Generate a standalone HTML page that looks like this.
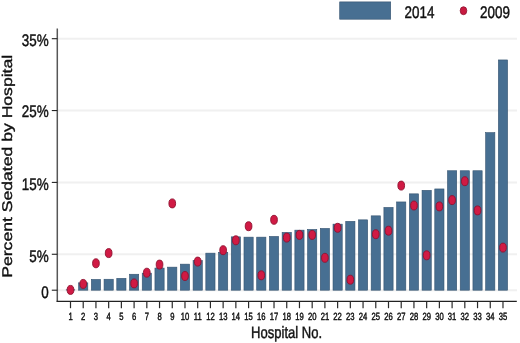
<!DOCTYPE html>
<html><head><meta charset="utf-8"><style>
html,body{margin:0;padding:0;background:#fff;}
body{width:520px;height:343px;overflow:hidden;}
svg{display:block;will-change:transform;}
text{font-family:"Liberation Sans",sans-serif;fill:#111;text-rendering:geometricPrecision;}
.b{stroke:#111;stroke-width:0.45px;}
</style></head><body>
<svg width="520" height="343" viewBox="0 0 520 343">
<rect width="520" height="343" fill="#fff"/>
<line x1="58" y1="290.20" x2="517" y2="290.20" stroke="#f0f0f0" stroke-width="2"/>
<line x1="58" y1="254.27" x2="517" y2="254.27" stroke="#f0f0f0" stroke-width="2"/>
<line x1="58" y1="182.41" x2="517" y2="182.41" stroke="#f0f0f0" stroke-width="2"/>
<line x1="58" y1="110.55" x2="517" y2="110.55" stroke="#f0f0f0" stroke-width="2"/>
<line x1="58" y1="38.69" x2="517" y2="38.69" stroke="#f0f0f0" stroke-width="2"/>
<line x1="65.90" y1="289.90" x2="75.10" y2="289.90" stroke="#34526f" stroke-width="1"/>
<rect x="78.62" y="282.85" width="9.2" height="7.35" fill="#476f92" stroke="#34526f" stroke-width="0.6"/>
<rect x="91.34" y="279.45" width="9.2" height="10.75" fill="#476f92" stroke="#34526f" stroke-width="0.6"/>
<rect x="104.06" y="279.25" width="9.2" height="10.95" fill="#476f92" stroke="#34526f" stroke-width="0.6"/>
<rect x="116.78" y="278.35" width="9.2" height="11.85" fill="#476f92" stroke="#34526f" stroke-width="0.6"/>
<rect x="129.50" y="274.25" width="9.2" height="15.95" fill="#476f92" stroke="#34526f" stroke-width="0.6"/>
<rect x="142.22" y="273.15" width="9.2" height="17.05" fill="#476f92" stroke="#34526f" stroke-width="0.6"/>
<rect x="154.94" y="268.05" width="9.2" height="22.15" fill="#476f92" stroke="#34526f" stroke-width="0.6"/>
<rect x="167.66" y="267.15" width="9.2" height="23.05" fill="#476f92" stroke="#34526f" stroke-width="0.6"/>
<rect x="180.38" y="264.15" width="9.2" height="26.05" fill="#476f92" stroke="#34526f" stroke-width="0.6"/>
<rect x="193.10" y="260.65" width="9.2" height="29.55" fill="#476f92" stroke="#34526f" stroke-width="0.6"/>
<rect x="205.82" y="253.15" width="9.2" height="37.05" fill="#476f92" stroke="#34526f" stroke-width="0.6"/>
<rect x="218.54" y="252.35" width="9.2" height="37.85" fill="#476f92" stroke="#34526f" stroke-width="0.6"/>
<rect x="231.26" y="236.85" width="9.2" height="53.35" fill="#476f92" stroke="#34526f" stroke-width="0.6"/>
<rect x="243.98" y="237.15" width="9.2" height="53.05" fill="#476f92" stroke="#34526f" stroke-width="0.6"/>
<rect x="256.70" y="237.15" width="9.2" height="53.05" fill="#476f92" stroke="#34526f" stroke-width="0.6"/>
<rect x="269.42" y="236.45" width="9.2" height="53.75" fill="#476f92" stroke="#34526f" stroke-width="0.6"/>
<rect x="282.14" y="232.45" width="9.2" height="57.75" fill="#476f92" stroke="#34526f" stroke-width="0.6"/>
<rect x="294.86" y="230.15" width="9.2" height="60.05" fill="#476f92" stroke="#34526f" stroke-width="0.6"/>
<rect x="307.58" y="229.45" width="9.2" height="60.75" fill="#476f92" stroke="#34526f" stroke-width="0.6"/>
<rect x="320.30" y="228.45" width="9.2" height="61.75" fill="#476f92" stroke="#34526f" stroke-width="0.6"/>
<rect x="333.02" y="224.15" width="9.2" height="66.05" fill="#476f92" stroke="#34526f" stroke-width="0.6"/>
<rect x="345.74" y="221.35" width="9.2" height="68.85" fill="#476f92" stroke="#34526f" stroke-width="0.6"/>
<rect x="358.46" y="219.85" width="9.2" height="70.35" fill="#476f92" stroke="#34526f" stroke-width="0.6"/>
<rect x="371.18" y="215.85" width="9.2" height="74.35" fill="#476f92" stroke="#34526f" stroke-width="0.6"/>
<rect x="383.90" y="207.45" width="9.2" height="82.75" fill="#476f92" stroke="#34526f" stroke-width="0.6"/>
<rect x="396.62" y="201.95" width="9.2" height="88.25" fill="#476f92" stroke="#34526f" stroke-width="0.6"/>
<rect x="409.34" y="193.85" width="9.2" height="96.35" fill="#476f92" stroke="#34526f" stroke-width="0.6"/>
<rect x="422.06" y="190.35" width="9.2" height="99.85" fill="#476f92" stroke="#34526f" stroke-width="0.6"/>
<rect x="434.78" y="188.95" width="9.2" height="101.25" fill="#476f92" stroke="#34526f" stroke-width="0.6"/>
<rect x="447.50" y="170.75" width="9.2" height="119.45" fill="#476f92" stroke="#34526f" stroke-width="0.6"/>
<rect x="460.22" y="170.75" width="9.2" height="119.45" fill="#476f92" stroke="#34526f" stroke-width="0.6"/>
<rect x="472.94" y="170.75" width="9.2" height="119.45" fill="#476f92" stroke="#34526f" stroke-width="0.6"/>
<rect x="485.66" y="132.65" width="9.2" height="157.55" fill="#476f92" stroke="#34526f" stroke-width="0.6"/>
<rect x="498.38" y="59.95" width="9.2" height="230.25" fill="#476f92" stroke="#34526f" stroke-width="0.6"/>
<ellipse cx="70.50" cy="289.90" rx="3.35" ry="4.5" fill="#d01a44" stroke="#8e1230" stroke-width="0.9"/>
<ellipse cx="83.22" cy="283.90" rx="3.35" ry="4.5" fill="#d01a44" stroke="#8e1230" stroke-width="0.9"/>
<ellipse cx="95.94" cy="263.30" rx="3.35" ry="4.5" fill="#d01a44" stroke="#8e1230" stroke-width="0.9"/>
<ellipse cx="108.66" cy="253.10" rx="3.35" ry="4.5" fill="#d01a44" stroke="#8e1230" stroke-width="0.9"/>
<ellipse cx="134.10" cy="283.40" rx="3.35" ry="4.5" fill="#d01a44" stroke="#8e1230" stroke-width="0.9"/>
<ellipse cx="146.82" cy="272.70" rx="3.35" ry="4.5" fill="#d01a44" stroke="#8e1230" stroke-width="0.9"/>
<ellipse cx="159.54" cy="264.60" rx="3.35" ry="4.5" fill="#d01a44" stroke="#8e1230" stroke-width="0.9"/>
<ellipse cx="172.26" cy="203.40" rx="3.35" ry="4.5" fill="#d01a44" stroke="#8e1230" stroke-width="0.9"/>
<ellipse cx="184.98" cy="276.00" rx="3.35" ry="4.5" fill="#d01a44" stroke="#8e1230" stroke-width="0.9"/>
<ellipse cx="197.70" cy="261.60" rx="3.35" ry="4.5" fill="#d01a44" stroke="#8e1230" stroke-width="0.9"/>
<ellipse cx="223.14" cy="250.20" rx="3.35" ry="4.5" fill="#d01a44" stroke="#8e1230" stroke-width="0.9"/>
<ellipse cx="235.86" cy="240.30" rx="3.35" ry="4.5" fill="#d01a44" stroke="#8e1230" stroke-width="0.9"/>
<ellipse cx="248.58" cy="226.20" rx="3.35" ry="4.5" fill="#d01a44" stroke="#8e1230" stroke-width="0.9"/>
<ellipse cx="261.30" cy="275.30" rx="3.35" ry="4.5" fill="#d01a44" stroke="#8e1230" stroke-width="0.9"/>
<ellipse cx="274.02" cy="219.80" rx="3.35" ry="4.5" fill="#d01a44" stroke="#8e1230" stroke-width="0.9"/>
<ellipse cx="286.74" cy="237.60" rx="3.35" ry="4.5" fill="#d01a44" stroke="#8e1230" stroke-width="0.9"/>
<ellipse cx="299.46" cy="234.90" rx="3.35" ry="4.5" fill="#d01a44" stroke="#8e1230" stroke-width="0.9"/>
<ellipse cx="312.18" cy="234.90" rx="3.35" ry="4.5" fill="#d01a44" stroke="#8e1230" stroke-width="0.9"/>
<ellipse cx="324.90" cy="257.80" rx="3.35" ry="4.5" fill="#d01a44" stroke="#8e1230" stroke-width="0.9"/>
<ellipse cx="337.62" cy="227.80" rx="3.35" ry="4.5" fill="#d01a44" stroke="#8e1230" stroke-width="0.9"/>
<ellipse cx="350.34" cy="279.70" rx="3.35" ry="4.5" fill="#d01a44" stroke="#8e1230" stroke-width="0.9"/>
<ellipse cx="375.78" cy="234.20" rx="3.35" ry="4.5" fill="#d01a44" stroke="#8e1230" stroke-width="0.9"/>
<ellipse cx="388.50" cy="230.70" rx="3.35" ry="4.5" fill="#d01a44" stroke="#8e1230" stroke-width="0.9"/>
<ellipse cx="401.22" cy="185.60" rx="3.35" ry="4.5" fill="#d01a44" stroke="#8e1230" stroke-width="0.9"/>
<ellipse cx="413.94" cy="205.50" rx="3.35" ry="4.5" fill="#d01a44" stroke="#8e1230" stroke-width="0.9"/>
<ellipse cx="426.66" cy="255.30" rx="3.35" ry="4.5" fill="#d01a44" stroke="#8e1230" stroke-width="0.9"/>
<ellipse cx="439.38" cy="206.40" rx="3.35" ry="4.5" fill="#d01a44" stroke="#8e1230" stroke-width="0.9"/>
<ellipse cx="452.10" cy="200.10" rx="3.35" ry="4.5" fill="#d01a44" stroke="#8e1230" stroke-width="0.9"/>
<ellipse cx="464.82" cy="181.20" rx="3.35" ry="4.5" fill="#d01a44" stroke="#8e1230" stroke-width="0.9"/>
<ellipse cx="477.54" cy="210.40" rx="3.35" ry="4.5" fill="#d01a44" stroke="#8e1230" stroke-width="0.9"/>
<ellipse cx="502.98" cy="247.60" rx="3.35" ry="4.5" fill="#d01a44" stroke="#8e1230" stroke-width="0.9"/>
<line x1="57.3" y1="28.5" x2="57.3" y2="301.8" stroke="#575757" stroke-width="1.5"/>
<line x1="56.6" y1="301.4" x2="516.8" y2="301.4" stroke="#222" stroke-width="1.15"/>
<line x1="51.8" y1="290.20" x2="57.3" y2="290.20" stroke="#222" stroke-width="1.1"/>
<text transform="translate(48.6 297.90) scale(0.8 1)" text-anchor="end" font-size="16.8" class="b">0</text>
<line x1="51.8" y1="254.27" x2="57.3" y2="254.27" stroke="#222" stroke-width="1.1"/>
<text transform="translate(48.6 261.97) scale(0.8 1)" text-anchor="end" font-size="16.8" class="b">5%</text>
<line x1="51.8" y1="182.41" x2="57.3" y2="182.41" stroke="#222" stroke-width="1.1"/>
<text transform="translate(48.6 189.71) scale(0.8 1)" text-anchor="end" font-size="16.8" class="b">15%</text>
<line x1="51.8" y1="110.55" x2="57.3" y2="110.55" stroke="#222" stroke-width="1.1"/>
<text transform="translate(48.6 117.35) scale(0.8 1)" text-anchor="end" font-size="16.8" class="b">25%</text>
<line x1="51.8" y1="38.69" x2="57.3" y2="38.69" stroke="#222" stroke-width="1.1"/>
<text transform="translate(48.6 45.69) scale(0.8 1)" text-anchor="end" font-size="16.8" class="b">35%</text>
<line x1="70.50" y1="301.4" x2="70.50" y2="308.2" stroke="#2a2a2a" stroke-width="1.2"/>
<text transform="translate(70.50 320.0) scale(0.735 1)" text-anchor="middle" font-size="10.4" class="b">1</text>
<line x1="83.22" y1="301.4" x2="83.22" y2="308.2" stroke="#2a2a2a" stroke-width="1.2"/>
<text transform="translate(83.22 320.0) scale(0.735 1)" text-anchor="middle" font-size="10.4" class="b">2</text>
<line x1="95.94" y1="301.4" x2="95.94" y2="308.2" stroke="#2a2a2a" stroke-width="1.2"/>
<text transform="translate(95.94 320.0) scale(0.735 1)" text-anchor="middle" font-size="10.4" class="b">3</text>
<line x1="108.66" y1="301.4" x2="108.66" y2="308.2" stroke="#2a2a2a" stroke-width="1.2"/>
<text transform="translate(108.66 320.0) scale(0.735 1)" text-anchor="middle" font-size="10.4" class="b">4</text>
<line x1="121.38" y1="301.4" x2="121.38" y2="308.2" stroke="#2a2a2a" stroke-width="1.2"/>
<text transform="translate(121.38 320.0) scale(0.735 1)" text-anchor="middle" font-size="10.4" class="b">5</text>
<line x1="134.10" y1="301.4" x2="134.10" y2="308.2" stroke="#2a2a2a" stroke-width="1.2"/>
<text transform="translate(134.10 320.0) scale(0.735 1)" text-anchor="middle" font-size="10.4" class="b">6</text>
<line x1="146.82" y1="301.4" x2="146.82" y2="308.2" stroke="#2a2a2a" stroke-width="1.2"/>
<text transform="translate(146.82 320.0) scale(0.735 1)" text-anchor="middle" font-size="10.4" class="b">7</text>
<line x1="159.54" y1="301.4" x2="159.54" y2="308.2" stroke="#2a2a2a" stroke-width="1.2"/>
<text transform="translate(159.54 320.0) scale(0.735 1)" text-anchor="middle" font-size="10.4" class="b">8</text>
<line x1="172.26" y1="301.4" x2="172.26" y2="308.2" stroke="#2a2a2a" stroke-width="1.2"/>
<text transform="translate(172.26 320.0) scale(0.735 1)" text-anchor="middle" font-size="10.4" class="b">9</text>
<line x1="184.98" y1="301.4" x2="184.98" y2="308.2" stroke="#2a2a2a" stroke-width="1.2"/>
<text transform="translate(184.98 320.0) scale(0.735 1)" text-anchor="middle" font-size="10.4" class="b">10</text>
<line x1="197.70" y1="301.4" x2="197.70" y2="308.2" stroke="#2a2a2a" stroke-width="1.2"/>
<text transform="translate(197.70 320.0) scale(0.735 1)" text-anchor="middle" font-size="10.4" class="b">11</text>
<line x1="210.42" y1="301.4" x2="210.42" y2="308.2" stroke="#2a2a2a" stroke-width="1.2"/>
<text transform="translate(210.42 320.0) scale(0.735 1)" text-anchor="middle" font-size="10.4" class="b">12</text>
<line x1="223.14" y1="301.4" x2="223.14" y2="308.2" stroke="#2a2a2a" stroke-width="1.2"/>
<text transform="translate(223.14 320.0) scale(0.735 1)" text-anchor="middle" font-size="10.4" class="b">13</text>
<line x1="235.86" y1="301.4" x2="235.86" y2="308.2" stroke="#2a2a2a" stroke-width="1.2"/>
<text transform="translate(235.86 320.0) scale(0.735 1)" text-anchor="middle" font-size="10.4" class="b">14</text>
<line x1="248.58" y1="301.4" x2="248.58" y2="308.2" stroke="#2a2a2a" stroke-width="1.2"/>
<text transform="translate(248.58 320.0) scale(0.735 1)" text-anchor="middle" font-size="10.4" class="b">15</text>
<line x1="261.30" y1="301.4" x2="261.30" y2="308.2" stroke="#2a2a2a" stroke-width="1.2"/>
<text transform="translate(261.30 320.0) scale(0.735 1)" text-anchor="middle" font-size="10.4" class="b">16</text>
<line x1="274.02" y1="301.4" x2="274.02" y2="308.2" stroke="#2a2a2a" stroke-width="1.2"/>
<text transform="translate(274.02 320.0) scale(0.735 1)" text-anchor="middle" font-size="10.4" class="b">17</text>
<line x1="286.74" y1="301.4" x2="286.74" y2="308.2" stroke="#2a2a2a" stroke-width="1.2"/>
<text transform="translate(286.74 320.0) scale(0.735 1)" text-anchor="middle" font-size="10.4" class="b">18</text>
<line x1="299.46" y1="301.4" x2="299.46" y2="308.2" stroke="#2a2a2a" stroke-width="1.2"/>
<text transform="translate(299.46 320.0) scale(0.735 1)" text-anchor="middle" font-size="10.4" class="b">19</text>
<line x1="312.18" y1="301.4" x2="312.18" y2="308.2" stroke="#2a2a2a" stroke-width="1.2"/>
<text transform="translate(312.18 320.0) scale(0.735 1)" text-anchor="middle" font-size="10.4" class="b">20</text>
<line x1="324.90" y1="301.4" x2="324.90" y2="308.2" stroke="#2a2a2a" stroke-width="1.2"/>
<text transform="translate(324.90 320.0) scale(0.735 1)" text-anchor="middle" font-size="10.4" class="b">21</text>
<line x1="337.62" y1="301.4" x2="337.62" y2="308.2" stroke="#2a2a2a" stroke-width="1.2"/>
<text transform="translate(337.62 320.0) scale(0.735 1)" text-anchor="middle" font-size="10.4" class="b">22</text>
<line x1="350.34" y1="301.4" x2="350.34" y2="308.2" stroke="#2a2a2a" stroke-width="1.2"/>
<text transform="translate(350.34 320.0) scale(0.735 1)" text-anchor="middle" font-size="10.4" class="b">23</text>
<line x1="363.06" y1="301.4" x2="363.06" y2="308.2" stroke="#2a2a2a" stroke-width="1.2"/>
<text transform="translate(363.06 320.0) scale(0.735 1)" text-anchor="middle" font-size="10.4" class="b">24</text>
<line x1="375.78" y1="301.4" x2="375.78" y2="308.2" stroke="#2a2a2a" stroke-width="1.2"/>
<text transform="translate(375.78 320.0) scale(0.735 1)" text-anchor="middle" font-size="10.4" class="b">25</text>
<line x1="388.50" y1="301.4" x2="388.50" y2="308.2" stroke="#2a2a2a" stroke-width="1.2"/>
<text transform="translate(388.50 320.0) scale(0.735 1)" text-anchor="middle" font-size="10.4" class="b">26</text>
<line x1="401.22" y1="301.4" x2="401.22" y2="308.2" stroke="#2a2a2a" stroke-width="1.2"/>
<text transform="translate(401.22 320.0) scale(0.735 1)" text-anchor="middle" font-size="10.4" class="b">27</text>
<line x1="413.94" y1="301.4" x2="413.94" y2="308.2" stroke="#2a2a2a" stroke-width="1.2"/>
<text transform="translate(413.94 320.0) scale(0.735 1)" text-anchor="middle" font-size="10.4" class="b">28</text>
<line x1="426.66" y1="301.4" x2="426.66" y2="308.2" stroke="#2a2a2a" stroke-width="1.2"/>
<text transform="translate(426.66 320.0) scale(0.735 1)" text-anchor="middle" font-size="10.4" class="b">29</text>
<line x1="439.38" y1="301.4" x2="439.38" y2="308.2" stroke="#2a2a2a" stroke-width="1.2"/>
<text transform="translate(439.38 320.0) scale(0.735 1)" text-anchor="middle" font-size="10.4" class="b">30</text>
<line x1="452.10" y1="301.4" x2="452.10" y2="308.2" stroke="#2a2a2a" stroke-width="1.2"/>
<text transform="translate(452.10 320.0) scale(0.735 1)" text-anchor="middle" font-size="10.4" class="b">31</text>
<line x1="464.82" y1="301.4" x2="464.82" y2="308.2" stroke="#2a2a2a" stroke-width="1.2"/>
<text transform="translate(464.82 320.0) scale(0.735 1)" text-anchor="middle" font-size="10.4" class="b">32</text>
<line x1="477.54" y1="301.4" x2="477.54" y2="308.2" stroke="#2a2a2a" stroke-width="1.2"/>
<text transform="translate(477.54 320.0) scale(0.735 1)" text-anchor="middle" font-size="10.4" class="b">33</text>
<line x1="490.26" y1="301.4" x2="490.26" y2="308.2" stroke="#2a2a2a" stroke-width="1.2"/>
<text transform="translate(490.26 320.0) scale(0.735 1)" text-anchor="middle" font-size="10.4" class="b">34</text>
<line x1="502.98" y1="301.4" x2="502.98" y2="308.2" stroke="#2a2a2a" stroke-width="1.2"/>
<text transform="translate(502.98 320.0) scale(0.735 1)" text-anchor="middle" font-size="10.4" class="b">35</text>
<text transform="translate(286.6 337.8) scale(0.79 1)" text-anchor="middle" font-size="16.5" class="b">Hospital No.</text>
<text transform="translate(12.4 166.3) rotate(-90) scale(1 0.8)" text-anchor="middle" font-size="17.6" class="b">Percent Sedated by Hospital</text>
<rect x="339.7" y="1.9" width="51.0" height="17.3" fill="#476f92" stroke="#34526f" stroke-width="0.6"/>
<text transform="translate(404.6 17.9) scale(0.8 1)" font-size="16.8" class="b">2014</text>
<ellipse cx="463.5" cy="10.7" rx="3.3" ry="4.0" fill="#c81a40" stroke="#8e1230" stroke-width="0.8"/>
<text transform="translate(480 17.6) scale(0.8 1)" font-size="16.8" class="b">2009</text>
</svg>
</body></html>
